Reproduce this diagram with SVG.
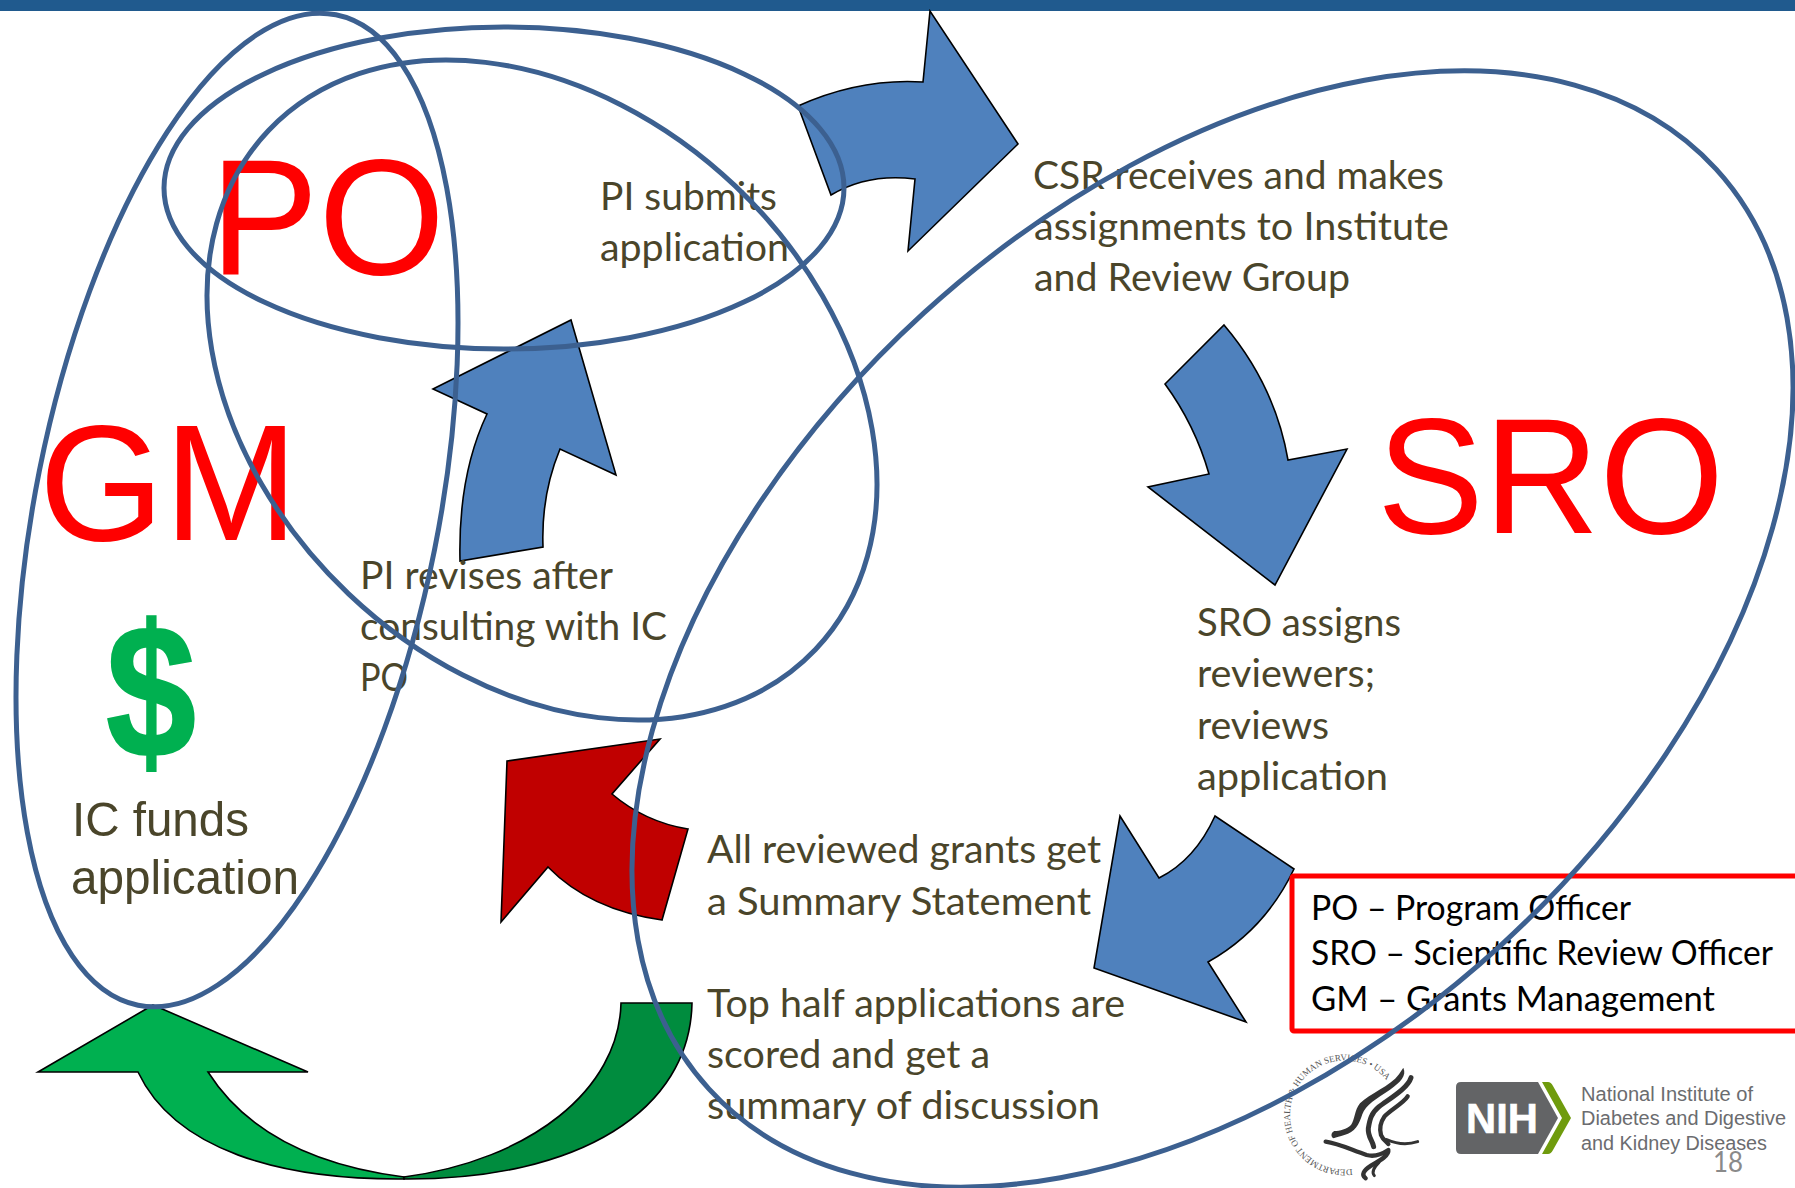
<svg xmlns="http://www.w3.org/2000/svg" width="1795" height="1188" viewBox="0 0 1795 1188">
<style>
.body{font-family:"Lato","Open Sans",sans-serif;font-size:38px;fill:#4a452a}
.leg{font-family:"Lato","Open Sans",sans-serif;font-size:34px;fill:#000}
.big{font-family:"Liberation Sans",Arial,sans-serif;font-size:165px;fill:#ff0000}
.ic{font-family:"Liberation Sans",Arial,sans-serif;font-size:49px;fill:#4a452a}
.nih{font-family:"Liberation Sans",Arial,sans-serif;font-size:20px;fill:#6b6c6f}
.arr{stroke:#000;stroke-width:1.6;stroke-linejoin:miter}
.blue{fill:#4f81bd}
.loop{fill:none;stroke:#3c6090;stroke-width:5}
.wing{fill:none;stroke:#333;stroke-linecap:round;stroke-linejoin:round}
</style>
<rect id="topbar" x="0" y="0" width="1795" height="11" fill="#205a8e"/>
<g id="connectors">
<path class="arr blue" d="M798,106 Q860,78 923,82 L930,11 L1018,144 L908,251 L915,179 Q868,173 831,195 Z"/>
<path class="arr blue" d="M1224,325 Q1275,385 1288,460 L1347,449 L1275,585 L1148,487 L1209,474 Q1195,425 1165,384 Z"/>
<path class="arr blue" d="M1294,869 L1215,816 Q1195,860 1159,878 L1120,816 L1094,968 L1246,1022 L1208,962 Q1265,930 1294,869 Z"/>
<path class="arr" fill="#c00000" d="M507,761 L660,739 L612,794 Q645,822 688,829 L662,920 Q590,910 548,867 L501,922 Z"/>
<path class="arr blue" d="M460,561 Q458,475 487,414 L433,389 L571,320 L616,475 L560,449 Q541,495 543,547 Z"/>
<path class="arr" fill="#00b050" d="M153,1005 L308,1072 L208,1072 C245,1130 310,1165 404,1177 L404,1179 C280,1180 175,1150 138,1072 L38,1072 Z"/>
<path class="arr" fill="#008c3e" d="M621,1003 L692,1003 C690,1110 580,1180 404,1179 L404,1177 C530,1160 619,1090 621,1003 Z"/>
</g>
<g id="po"><text class="big" x="210" y="274" textLength="235" lengthAdjust="spacingAndGlyphs">PO</text></g>
<g id="gm"><text class="big" x="39" y="540" textLength="259" lengthAdjust="spacingAndGlyphs">GM</text></g>
<g id="sro"><text class="big" x="1377" y="533" textLength="347" lengthAdjust="spacingAndGlyphs">SRO</text></g>
<g id="dollar"><text x="106" y="757" font-family="Liberation Sans,Arial,sans-serif" font-weight="700" font-size="190" fill="#00b050" stroke="#00b050" stroke-width="2" textLength="90" lengthAdjust="spacingAndGlyphs">$</text></g>
<g id="ic-funds">
<text class="ic" x="72" y="836" textLength="177" lengthAdjust="spacingAndGlyphs">IC funds</text>
<text class="ic" x="71" y="894" textLength="228" lengthAdjust="spacingAndGlyphs">application</text>
</g>
<g id="pi-submits">
<text class="body" x="600" y="210" textLength="177" lengthAdjust="spacingAndGlyphs">PI submits</text>
<text class="body" x="600" y="261" textLength="189" lengthAdjust="spacingAndGlyphs">application</text>
</g>
<g id="pi-revises">
<text class="body" x="360" y="589" textLength="253" lengthAdjust="spacingAndGlyphs">PI revises after</text>
<text class="body" x="360" y="640" textLength="307" lengthAdjust="spacingAndGlyphs">consulting with IC</text>
<text class="body" x="360" y="691" textLength="48" lengthAdjust="spacingAndGlyphs">PO</text>
</g>
<g id="csr">
<text class="body" x="1033" y="189" textLength="411" lengthAdjust="spacingAndGlyphs">CSR receives and makes</text>
<text class="body" x="1034" y="240" textLength="415" lengthAdjust="spacingAndGlyphs">assignments to Institute</text>
<text class="body" x="1034" y="291" textLength="316" lengthAdjust="spacingAndGlyphs">and Review Group</text>
</g>
<g id="sro-assigns">
<text class="body" x="1197" y="636" textLength="204" lengthAdjust="spacingAndGlyphs">SRO assigns</text>
<text class="body" x="1197" y="687" textLength="178" lengthAdjust="spacingAndGlyphs">reviewers;</text>
<text class="body" x="1197" y="739" textLength="132" lengthAdjust="spacingAndGlyphs">reviews</text>
<text class="body" x="1197" y="790" textLength="191" lengthAdjust="spacingAndGlyphs">application</text>
</g>
<g id="summary">
<text class="body" x="707" y="863" textLength="394" lengthAdjust="spacingAndGlyphs">All reviewed grants get</text>
<text class="body" x="707" y="915" textLength="384" lengthAdjust="spacingAndGlyphs">a Summary Statement</text>
</g>
<g id="top-half">
<text class="body" x="707" y="1017" textLength="418" lengthAdjust="spacingAndGlyphs">Top half applications are</text>
<text class="body" x="707" y="1068" textLength="283" lengthAdjust="spacingAndGlyphs">scored and get a</text>
<text class="body" x="707" y="1119" textLength="393" lengthAdjust="spacingAndGlyphs">summary of discussion</text>
</g>
<g id="legend">
<rect x="1292" y="876" width="600" height="155" rx="2" fill="none" stroke="#ff0000" stroke-width="5"/>
<text class="leg" x="1311" y="920" textLength="320" lengthAdjust="spacingAndGlyphs">PO – Program Officer</text>
<text class="leg" x="1311" y="965" textLength="462" lengthAdjust="spacingAndGlyphs">SRO – Scientific Review Officer</text>
<text class="leg" x="1311" y="1011" textLength="404" lengthAdjust="spacingAndGlyphs">GM – Grants Management</text>
</g>
<g id="hhs-seal">
<path id="sealArc" d="M1352,1169 A54.5,54.5 0 1 1 1385,1078.5" fill="none"/>
<text font-family="Liberation Serif,Times New Roman,serif" font-size="9" fill="#555"><textPath href="#sealArc" textLength="226" lengthAdjust="spacingAndGlyphs">DEPARTMENT OF HEALTH &amp; HUMAN SERVICES • USA</textPath></text>
<g transform="translate(1275,1045) scale(.3333)">
<path fill="#333" d="M385,68 C396,92 376,112 345,134 C305,160 272,180 262,208 C252,240 240,262 208,270 C195,274 184,276 176,280 C166,276 168,262 178,258 C195,258 215,252 228,240 C240,225 238,195 255,175 C285,145 345,125 372,88 Z"/>
<path class="wing" stroke-width="15" d="M408,98 C398,130 345,160 312,185 C288,205 284,225 280,250 C278,275 292,285 296,305"/>
<path class="wing" stroke-width="13" d="M398,154 C385,175 345,195 328,215 C314,235 314,255 318,270 C324,285 335,290 340,297"/>
<path class="wing" stroke-width="9" d="M335,284 C365,297 400,299 428,290"/>
<path class="wing" stroke-width="13" d="M152,290 C190,295 230,315 275,330 C300,337 325,325 340,315 C343,332 315,347 288,362 C265,377 258,390 272,400"/>
<path class="wing" stroke-width="9" d="M312,352 C297,367 288,380 298,392"/>
</g>
</g>
<g id="nih-logo">
<path fill="#636466" d="M1461,1082 L1538,1082 L1558,1118 L1538,1154 L1461,1154 Q1456,1154 1456,1149 L1456,1087 Q1456,1082 1461,1082 Z"/>
<path fill="#6f9b0d" d="M1542,1082 L1548,1082 Q1551,1082 1553,1086 L1571,1118 L1553,1150 Q1551,1154 1548,1154 L1542,1154 L1562,1118 Z"/>
<text x="1466" y="1133" font-family="Liberation Sans,Arial,sans-serif" font-weight="700" font-size="43" fill="#fff" stroke="#fff" stroke-width=".6" textLength="72" lengthAdjust="spacingAndGlyphs">NIH</text>
<text class="nih" x="1581" y="1101" textLength="172" lengthAdjust="spacingAndGlyphs">National Institute of</text>
<text class="nih" x="1581" y="1125" textLength="205" lengthAdjust="spacingAndGlyphs">Diabetes and Digestive</text>
<text class="nih" x="1581" y="1150" textLength="186" lengthAdjust="spacingAndGlyphs">and Kidney Diseases</text>
</g>
<g id="page-number"><text x="1713" y="1172" font-family="Lato,sans-serif" font-size="29" fill="#8a8a8a" textLength="30" lengthAdjust="spacingAndGlyphs">18</text></g>
<g id="loops">
<ellipse class="loop" cx="237" cy="510" rx="201.5" ry="505" transform="rotate(11.3 237 510)"/>
<ellipse class="loop" cx="504" cy="188" rx="340" ry="161"/>
<ellipse class="loop" cx="542" cy="390" rx="377" ry="281" transform="rotate(43.5 542 390)"/>
<ellipse class="loop" cx="1212.5" cy="629" rx="682" ry="428" transform="rotate(-42.4 1212.5 629)"/>
</g>
</svg>
